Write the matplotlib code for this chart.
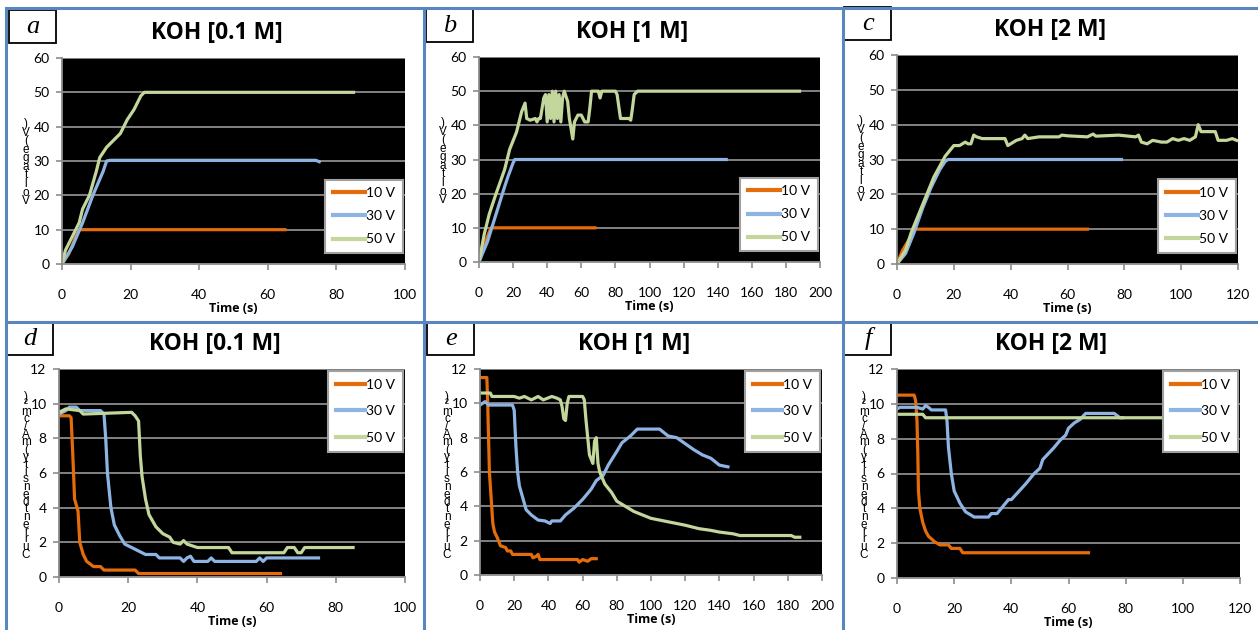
import matplotlib
matplotlib.use("Agg")
import matplotlib.pyplot as plt
from matplotlib.lines import Line2D

plt.rcParams['font.family'] = ['Lato', 'DejaVu Sans']

W, H = 1258, 630

# ---- data (time s, value) ----
# voltage panels
a10_t = [0, 2, 4, 5, 65]
a10_v = [0, 3, 8, 10, 10]
a30_t = [0, 3, 6, 9, 12, 13, 14, 74, 75]
a30_v = [0, 5, 12, 20, 27, 30, 30.2, 30.2, 29.8]
a50_t = [0, 1, 3, 5, 6, 8, 10, 11, 13, 15, 17, 19, 21, 23, 24, 85]
a50_v = [0, 4, 8, 12, 16, 20, 27, 31, 34, 36, 38, 42, 45, 49, 50, 50]

b10_t = [0, 3, 7, 68]
b10_v = [0, 5, 10, 10]
b30_t = [0, 5, 10, 15, 17, 20, 21, 145]
b30_v = [0, 6, 14, 22, 25, 29, 30, 30]
b50_t = [0, 3, 6, 10, 15, 18, 22, 25, 27, 28, 30, 33, 34, 35, 36, 38, 39, 40, 41,
         42, 43, 44, 45, 46, 47, 48, 49, 50, 52, 53, 55, 56, 58, 60, 62, 64, 65,
         66, 70, 71, 72, 80, 81, 83, 88, 89, 90, 91, 93, 188]
b50_v = [0, 8, 14, 20, 27, 33, 38, 44, 46.5, 42, 41.5, 42, 41, 42, 42, 48, 49, 41,
         49, 42, 50, 41, 50, 42, 49, 41, 48, 50, 47, 42, 36, 41, 43, 43, 41, 41, 45,
         50, 50, 48, 50, 50, 49, 42, 42, 41.5, 45, 49, 50, 50]

c10_t = [0, 2, 5, 6, 67]
c10_v = [0, 4, 8, 10, 10]
c30_t = [0, 3, 6, 9, 12, 15, 17, 18, 79]
c30_v = [0, 3, 9, 16, 22, 27, 29.5, 30, 30]
c50_t = [0, 3, 5, 8, 11, 13, 15, 17, 19, 20, 22, 24, 25, 26, 27, 28, 30, 38, 39,
         40, 42, 44, 45, 46, 50, 57, 58, 60, 67, 69, 70, 78, 84, 85, 86, 88, 90,
         93, 95, 97, 99, 101, 103, 105, 106, 107, 112, 113, 116, 118, 119.5]
c50_v = [0, 4, 9, 15, 21, 25, 28, 31, 33, 34, 34, 35, 34.5, 34.5, 37, 36.5, 36, 36,
         34, 34.5, 35.5, 36, 37, 36, 36.5, 36.5, 37, 36.8, 36.5, 37.3, 36.7, 37,
         36.5, 37, 35, 34.5, 35.5, 35, 35, 36, 35.5, 36, 35.5, 36.5, 40, 38, 38,
         35.5, 35.5, 36, 35.5]

# current density panels
d10_t = [0, 3, 3.5, 4, 4.5, 5.5, 6, 7, 8, 10, 12, 13, 22, 23, 64]
d10_j = [9.3, 9.3, 9.2, 7, 4.5, 3.8, 2, 1.3, 0.9, 0.6, 0.6, 0.4, 0.4, 0.2, 0.2]
d30_t = [0, 2, 3, 5, 6, 12, 13, 13.5, 14, 15, 16, 17.5, 19, 21, 23, 25, 28, 29,
         35, 36, 37, 38, 39, 43, 44, 45, 57, 58, 59, 60, 75]
d30_j = [9.4, 9.6, 9.8, 9.8, 9.6, 9.6, 9.4, 8, 6, 4, 3, 2.4, 1.9, 1.7, 1.5, 1.3,
         1.3, 1.1, 1.1, 0.9, 1.1, 1.2, 0.9, 0.9, 1.1, 0.9, 0.9, 1.1, 0.9, 1.1, 1.1]
d50_t = [0, 2, 6, 7, 21, 22, 23, 23.5, 24, 25, 26, 28, 30, 32, 33, 35, 36, 37, 40,
         49, 50, 65, 66, 68, 69, 70, 71, 85]
d50_j = [9.5, 9.7, 9.6, 9.4, 9.5, 9.3, 9, 7, 5.8, 4.5, 3.6, 2.9, 2.5, 2.3, 2, 1.9,
         2.1, 1.9, 1.7, 1.7, 1.4, 1.4, 1.7, 1.7, 1.4, 1.4, 1.7, 1.7]

e10_t = [0, 4, 4.5, 5, 5.5, 6.5, 7.5, 8.5, 10, 12, 15, 16, 18, 19, 30, 31, 33,
         34, 35, 57, 58, 60, 63, 65, 68]
e10_j = [11.5, 11.5, 10, 8, 6, 4.5, 3, 2.5, 2.2, 1.7, 1.6, 1.4, 1.4, 1.2, 1.2,
         1.0, 1.1, 1.2, 0.9, 0.9, 0.75, 0.9, 0.8, 0.95, 0.95]
e30_t = [0, 3, 4, 5, 19, 20, 21, 22, 23, 25, 27, 30, 34, 38, 41, 42, 47, 50, 55,
         60, 65, 68, 72, 75, 80, 83, 88, 92, 105, 110, 115, 125, 130, 135, 140, 145]
e30_j = [9.9, 10.1, 10, 9.9, 9.9, 9.6, 7.5, 6, 5.2, 4.5, 3.8, 3.5, 3.2, 3.15, 3.0,
         3.15, 3.15, 3.5, 3.9, 4.4, 5.0, 5.5, 5.8, 6.4, 7.2, 7.7, 8.1, 8.5, 8.5,
         8.1, 8.0, 7.3, 7.0, 6.8, 6.4, 6.3]
e50_t = [0, 6, 7, 20, 23, 26, 30, 34, 37, 42, 45, 47, 48, 49, 50, 51, 52, 60, 61,
         62, 63, 64, 66, 67, 68, 69, 70, 73, 77, 80, 85, 90, 95, 100, 105, 110,
         120, 128, 135, 140, 148, 152, 182, 184, 187]
e50_j = [10.6, 10.6, 10.4, 10.4, 10.3, 10.4, 10.2, 10.4, 10.2, 10.4, 10.3, 10.2,
         9.8, 9.1, 9.0, 10.0, 10.4, 10.4, 10.2, 9, 8, 7, 6.5, 7.8, 8.0, 6.5, 6,
         5.3, 4.8, 4.3, 4.0, 3.7, 3.5, 3.3, 3.2, 3.1, 2.9, 2.7, 2.6, 2.5, 2.4, 2.3,
         2.3, 2.2, 2.2]

f10_t = [0, 6, 6.5, 7, 7.3, 7.5, 8, 9, 10, 11, 13, 15, 18, 19, 22, 23, 67]
f10_j = [10.5, 10.5, 10.2, 9, 7, 5, 4, 3.2, 2.7, 2.4, 2.1, 1.9, 1.9, 1.7, 1.7,
         1.45, 1.45]
f30_t = [0, 1, 7, 9, 10, 11, 12, 17, 17.5, 18, 19, 20, 22, 24, 26, 27, 32, 33, 35,
         37, 39, 40, 45, 48, 50, 51, 55, 57, 59, 60, 62, 64, 66, 76, 78, 79]
f30_j = [9.7, 9.8, 9.8, 9.7, 9.9, 9.8, 9.65, 9.65, 9, 7.5, 6, 5, 4.3, 3.8, 3.6,
         3.5, 3.5, 3.7, 3.7, 4.1, 4.5, 4.5, 5.4, 6, 6.3, 6.8, 7.5, 7.9, 8.2, 8.6,
         8.9, 9.1, 9.45, 9.45, 9.2, 9.2]
f50_t = [0, 9, 10, 119]
f50_j = [9.4, 9.4, 9.2, 9.2]

series_labels = ['10 V', '30 V', '50 V']
colors = ['#E46C0A', '#8EB4E3', '#C3D69B']

panels = [
    # letter, title, series, xmax, xstep, ymax, ystep, kind, axes px box
    ('a', 'KOH [0.1 M]', [(a10_t, a10_v), (a30_t, a30_v), (a50_t, a50_v)],
     100, 20, 60, 10, 'V', (62, 405, 58, 264)),
    ('b', 'KOH [1 M]', [(b10_t, b10_v), (b30_t, b30_v), (b50_t, b50_v)],
     200, 20, 60, 10, 'V', (479, 820, 57, 262)),
    ('c', 'KOH [2 M]', [(c10_t, c10_v), (c30_t, c30_v), (c50_t, c50_v)],
     120, 20, 60, 10, 'V', (897, 1238, 55, 264)),
    ('d', 'KOH [0.1 M]', [(d10_t, d10_j), (d30_t, d30_j), (d50_t, d50_j)],
     100, 20, 12, 2, 'J', (59, 405, 369, 577)),
    ('e', 'KOH [1 M]', [(e10_t, e10_j), (e30_t, e30_j), (e50_t, e50_j)],
     200, 20, 12, 2, 'J', (480, 822, 369, 575)),
    ('f', 'KOH [2 M]', [(f10_t, f10_j), (f30_t, f30_j), (f50_t, f50_j)],
     120, 20, 12, 2, 'J', (897, 1240, 369, 578)),
]

fig = plt.figure(figsize=(W / 100, H / 100), dpi=100)
fig.patch.set_facecolor('white')

border = '#5A86C0'
# panel frame lines
for xx in (6, 424, 843):
    fig.add_artist(Line2D([xx / W, xx / W], [0, 1 - 8 / H], color=border, lw=2.2,
                          transform=fig.transFigure))
for yy in (8, 322):
    fig.add_artist(Line2D([6 / W, 1], [1 - yy / H, 1 - yy / H], color=border, lw=2.2,
                          transform=fig.transFigure))

volt_label = "\n".join(reversed("Voltage (V)".replace(" ", "")))
curr_label = "\n".join(reversed("Current density (mA/cm²)".replace(" ", "")))

for letter, title, series, xmax, xstep, ymax, ystep, kind, box in panels:
    x0, x1, yt, yb = box
    ax = fig.add_axes([x0 / W, 1 - yb / H, (x1 - x0) / W, (yb - yt) / H])
    ax.set_facecolor('black')
    for (t, v), c, lab in zip(series, colors, series_labels):
        ax.plot(t, v, color=c, lw=2.3, label=lab, solid_joinstyle='round')
    ax.set_xlim(0, xmax)
    ax.set_ylim(0, ymax)
    ax.set_xticks(range(0, xmax + 1, xstep))
    ax.set_yticks(range(0, ymax + 1, ystep))
    ax.yaxis.grid(True, color='#8C8C8C', lw=1.3)
    ax.set_axisbelow(True)
    for s in ('top', 'right'):
        ax.spines[s].set_visible(False)
    for s in ('left', 'bottom'):
        ax.spines[s].set_color('#8C8C8C')
        ax.spines[s].set_linewidth(1.3)
    ax.tick_params(axis='both', colors='#8C8C8C', labelcolor='black', labelsize=10,
                   length=4, width=1.2)
    ax.tick_params(axis='x', pad=14)
    ax.tick_params(axis='y', pad=5)
    ax.set_xlabel('Time (s)', fontsize=9, fontweight='bold', labelpad=1,
                  family=['Open Sans', 'DejaVu Sans'])

    if kind == 'V':
        leg = ax.legend(loc='lower right', bbox_to_anchor=(0.994, 0.053),
                        fontsize=10, handlelength=2.3,
                        handletextpad=0.1, labelspacing=0.8, borderpad=0.55,
                        fancybox=False, framealpha=1, edgecolor='#A0A0A0',
                        borderaxespad=0)
    else:
        leg = ax.legend(loc='upper right', fontsize=10, handlelength=2.1,
                        handletextpad=0.1, labelspacing=1.05, borderpad=0.55,
                        fancybox=False, framealpha=1, edgecolor='#A0A0A0',
                        borderaxespad=0.15)
    leg.get_frame().set_linewidth(1.5)
    for ln in leg.get_lines():
        ln.set_linewidth(3)

    # title
    cx = (x0 + x1) / 2 - 17
    fig.text(cx / W, 1 - (yt - 25) / H, title, fontsize=16.5, fontweight='bold',
             ha='center', va='center', family=['Open Sans', 'DejaVu Sans'])

    # letter box
    lx = x0 - 54
    ty = yt - 48 if kind == 'V' else yt - 47
    fig.text((lx + 25) / W, 1 - (ty + 17) / H, letter, fontsize=19, style='italic',
             family='Liberation Serif', ha='center', va='center')
    fig.add_artist(plt.Rectangle(((lx + 1) / W, 1 - (ty + 33) / H), 47 / W, 33 / H,
                                 fill=False, ec='black', lw=1.3,
                                 transform=fig.transFigure))

    # stacked y label
    if kind == 'V':
        fig.text((x0 - 36) / W, 1 - (yt + 60) / H, volt_label, fontsize=8.5,
                 ha='center', va='top', linespacing=0.62,
                 family=['Liberation Sans', 'DejaVu Sans'])
    else:
        fig.text((x0 - 33) / W, 1 - (yt + 22) / H, curr_label, fontsize=8.5,
                 ha='center', va='top', linespacing=0.5,
                 family=['Liberation Sans', 'DejaVu Sans'])

fig.savefig('out.png', dpi=100)
